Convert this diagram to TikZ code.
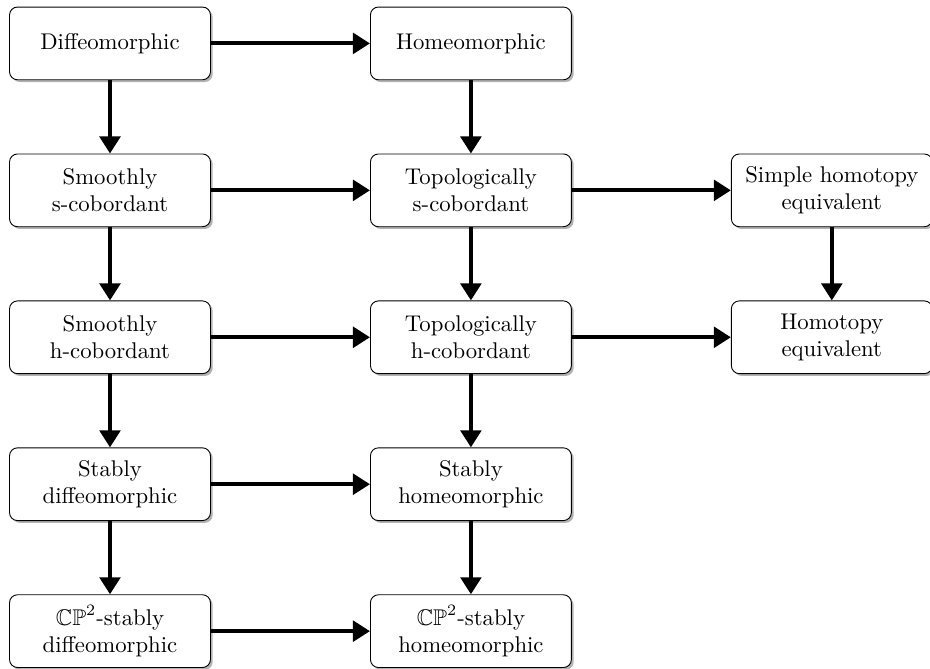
\documentclass[tikz,border=0pt]{standalone}
\usepackage{amssymb}
\usetikzlibrary{arrows.meta,shadows}
\tikzset{
  box/.style={draw, thin, fill=white, rounded corners=3.5pt, align=center,
    minimum width=88.4pt, minimum height=32pt, inner sep=2pt,
    drop shadow={shadow xshift=1pt, shadow yshift=-1pt, fill=black!60, opacity=.5}},
  implies/.style={-{Triangle[length=7.5pt,width=9pt]}, line width=1.8pt}
}
\begin{document}
\begin{tikzpicture}[x=158.8pt,y=-64.65pt]
\useasboundingbox (-48.4pt,19.1pt) rectangle (360.8pt,-275.2pt);
% first column: smooth notions
\node[box] (diff) at (0,0) {Diffeomorphic};
\node[box] (smS) at (0,1) {Smoothly\\s-cobordant};
\node[box] (smH) at (0,2) {Smoothly\\h-cobordant};
\node[box] (stDiff) at (0,3) {Stably\\diffeomorphic};
\node[box] (cpDiff) at (0,4) {$\mathbb{CP}^2$-stably\\diffeomorphic};
% second column: topological notions
\node[box] (homeo) at (1,0) {Homeomorphic};
\node[box] (topS) at (1,1) {Topologically\\s-cobordant};
\node[box] (topH) at (1,2) {Topologically\\h-cobordant};
\node[box] (stHomeo) at (1,3) {Stably\\homeomorphic};
\node[box] (cpHomeo) at (1,4) {$\mathbb{CP}^2$-stably\\homeomorphic};
% third column
\node[box] (simple) at (2,1) {Simple homotopy\\equivalent};
\node[box] (htpy) at (2,2) {Homotopy\\equivalent};
\draw[implies] (diff) -- (homeo); \draw[implies] (smS) -- (topS);
\draw[implies] (topS) -- (simple); \draw[implies] (smH) -- (topH);
\draw[implies] (topH) -- (htpy); \draw[implies] (stDiff) -- (stHomeo);
\draw[implies] (cpDiff) -- (cpHomeo);
\draw[implies] (diff) -- (smS); \draw[implies] (smS) -- (smH);
\draw[implies] (smH) -- (stDiff); \draw[implies] (stDiff) -- (cpDiff);
\draw[implies] (homeo) -- (topS); \draw[implies] (topS) -- (topH);
\draw[implies] (topH) -- (stHomeo); \draw[implies] (stHomeo) -- (cpHomeo);
\draw[implies] (simple) -- (htpy);
\end{tikzpicture}
\end{document}
